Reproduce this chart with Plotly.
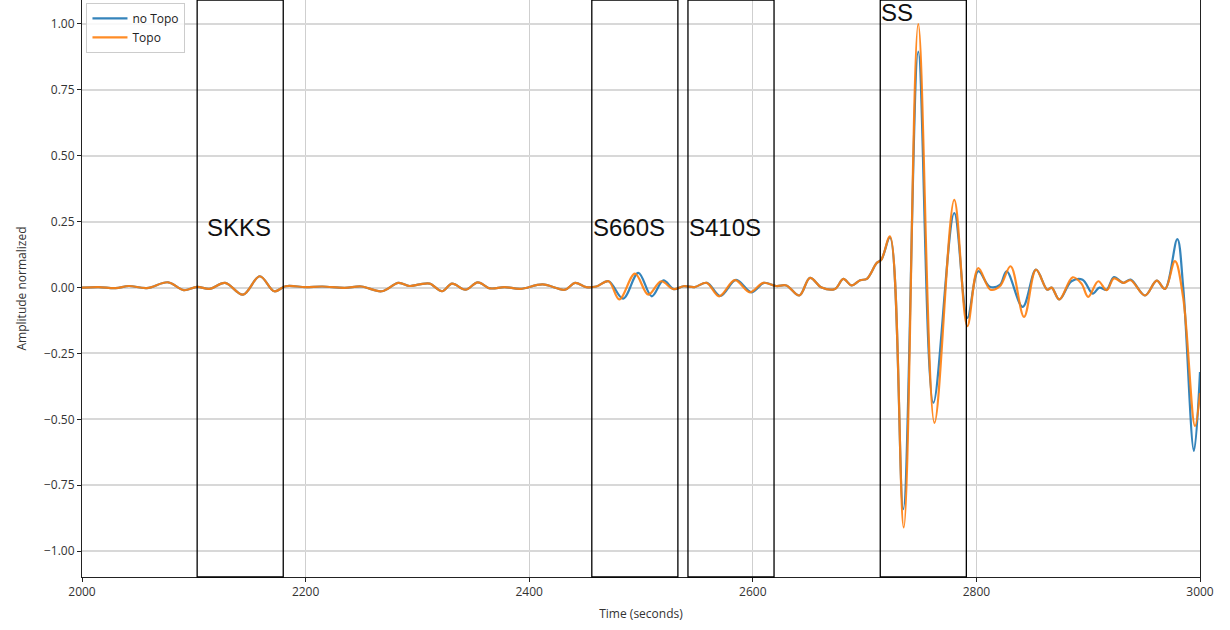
import plotly.graph_objects as go

# Seismogram comparison: normalized amplitude vs. time, with and without topography
t_no_topo = [2000, 2015, 2030, 2042, 2058, 2077, 2091, 2103, 2114, 2128, 2144, 2159, 2172, 2182,
             2200, 2215, 2235, 2250, 2268, 2283, 2293, 2302, 2311, 2322, 2331, 2343, 2354, 2365,
             2378, 2392, 2412, 2432, 2441, 2451, 2460, 2471, 2484, 2497.6, 2509.6, 2520, 2529.5,
             2538, 2548, 2559, 2571, 2585, 2599, 2610, 2621, 2630, 2641.6, 2651.2, 2661.6, 2673.5,
             2681, 2688.4, 2696, 2702, 2710.8, 2715, 2722.7, 2734.6, 2748, 2761.5, 2780.2, 2791.9,
             2801.7, 2812, 2821, 2827, 2841.4, 2853.3, 2863.4, 2867.3, 2874.2, 2885, 2895, 2904,
             2910, 2916.5, 2923, 2931.4, 2938, 2950.8, 2961.3, 2968.7, 2979.7, 2985, 2994.6, 3000]
a_no_topo = [0.0, 0.002, -0.002, 0.006, -0.002, 0.02, -0.01, 0.003, -0.005, 0.018, -0.027, 0.043, -0.014, 0.005,
             0.002, 0.004, -0.001, 0.004, -0.014, 0.018, 0.006, 0.012, 0.015, -0.014, 0.015, -0.008, 0.02, -0.003,
             0.002, -0.005, 0.012, -0.008, 0.018, 0.002, 0.004, 0.024, -0.042, 0.056, -0.033, 0.027, -0.006,
             0.005, 0.002, 0.018, -0.032, 0.029, -0.018, 0.018, 0.006, 0.008, -0.03, 0.037, 0.0, -0.005,
             0.033, 0.008, 0.028, 0.033, 0.093, 0.106, 0.19, -0.841, 0.895, -0.437, 0.283, -0.115,
             0.062, 0.003, 0.01, 0.062, -0.073, 0.068, -0.008, 0.0, -0.045, 0.024, 0.03, -0.023,
             0.0, -0.008, 0.04, 0.018, 0.03, -0.03, 0.026, -0.005, 0.184, 0.0, -0.62, -0.32]

t_topo = [2000, 2015, 2030, 2042, 2058, 2077, 2091, 2103, 2114, 2128, 2144, 2159, 2172, 2182,
          2200, 2215, 2235, 2250, 2268, 2283, 2293, 2302, 2311, 2322, 2331, 2343, 2354, 2365,
          2378, 2392, 2412, 2432, 2441, 2451, 2460, 2471, 2480.6, 2494.6, 2506.5, 2518, 2529,
          2538, 2548, 2558.7, 2570, 2584, 2597.5, 2609.4, 2621, 2630, 2641.6, 2651.2, 2661.6, 2673.5,
          2681, 2688.4, 2696, 2702, 2710.8, 2715, 2722.7, 2735, 2748, 2762.5, 2780.2, 2791.9,
          2801.7, 2812.5, 2821, 2830.6, 2842.6, 2853.3, 2863.4, 2867.3, 2874.2, 2886.1, 2894, 2900,
          2909, 2916.5, 2923, 2931.4, 2938, 2950.8, 2961.3, 2968.7, 2977.6, 2985, 2995.5, 3000]
a_topo = [0.0, 0.002, -0.002, 0.006, -0.002, 0.02, -0.01, 0.003, -0.005, 0.018, -0.027, 0.043, -0.014, 0.005,
          0.002, 0.004, -0.001, 0.004, -0.014, 0.018, 0.006, 0.012, 0.015, -0.014, 0.015, -0.008, 0.02, -0.003,
          0.002, -0.005, 0.012, -0.008, 0.018, 0.002, 0.004, 0.024, -0.045, 0.053, -0.027, 0.024, -0.006,
          0.005, 0.002, 0.018, -0.033, 0.028, -0.018, 0.018, 0.006, 0.008, -0.03, 0.037, 0.0, -0.005,
          0.033, 0.008, 0.028, 0.033, 0.093, 0.106, 0.194, -0.91, 1.0, -0.513, 0.333, -0.146,
          0.074, -0.008, 0.005, 0.081, -0.111, 0.068, -0.008, 0.0, -0.045, 0.039, 0.015, -0.035,
          0.024, -0.01, 0.035, 0.018, 0.028, -0.03, 0.026, -0.005, 0.1, -0.04, -0.525, -0.4]

# Phase windows: label, start, end, label time, label amplitude
phases = ["SKKS", "S660S", "S410S", "SS"]
win_start = [2103, 2456, 2542, 2714]
win_end = [2180, 2533, 2619, 2791]
label_t = [2110, 2455, 2541, 2713]
label_a = [0.227, 0.227, 0.227, 1.045]

x_ticks = [2000, 2200, 2400, 2600, 2800, 3000]
y_ticks = [-1.0, -0.75, -0.5, -0.25, 0.0, 0.25, 0.5, 0.75, 1.0]

fig = go.Figure()
fig.add_trace(go.Scatter(x=t_no_topo, y=a_no_topo, mode="lines", name="no Topo",
                         line=dict(color="#1f77b4", width=2.2, shape="spline", smoothing=1.0),
                         opacity=0.9))
fig.add_trace(go.Scatter(x=t_topo, y=a_topo, mode="lines", name="Topo",
                         line=dict(color="#ff7f0e", width=2.2, shape="spline", smoothing=1.0),
                         opacity=0.9))

for name, s, e, lt, la in zip(phases, win_start, win_end, label_t, label_a):
    fig.add_shape(type="rect", xref="x", yref="paper", x0=s, x1=e, y0=0, y1=1,
                  line=dict(color="black", width=1.3), fillcolor="rgba(0,0,0,0)")
    fig.add_annotation(x=lt, y=la, text=name, showarrow=False, xanchor="left", yanchor="middle",
                       font=dict(family="Liberation Sans, Arial", size=24, color="#111"))

axis_font = dict(family="Open Sans, DejaVu Sans", size=12, color="#333")
fig.update_layout(
    width=1230, height=630,
    margin=dict(l=82, r=30, t=0, b=53),
    plot_bgcolor="white", paper_bgcolor="white",
    showlegend=True,
    legend=dict(x=0.004, y=0.995, xanchor="left", yanchor="top",
                bgcolor="rgba(255,255,255,0.85)", bordercolor="#cccccc", borderwidth=1,
                font=dict(family="Open Sans, DejaVu Sans", size=12, color="#222"),
                itemwidth=35, tracegroupgap=0),
    xaxis=dict(range=[2000, 3000], tickvals=x_ticks, ticktext=[str(v) for v in x_ticks],
               showgrid=True, gridcolor="#cfcfcf", gridwidth=1,
               showline=True, linecolor="#222", linewidth=1, mirror=True,
               ticks="outside", ticklen=4, tickcolor="#222", tickfont=axis_font,
               zeroline=False,
               title=dict(text="Time (seconds)", font=axis_font, standoff=10)),
    yaxis=dict(range=[-1.098, 1.091], tickvals=y_ticks, tickformat=".2f",
               showgrid=True, gridcolor="#d8d8d8", gridwidth=1.6,
               showline=True, linecolor="#222", linewidth=1, mirror=True,
               ticks="outside", ticklen=4, tickcolor="#222", tickfont=axis_font,
               zeroline=False,
               title=dict(text="Amplitude normalized", font=axis_font, standoff=14)),
)

fig.write_html("out.html")
